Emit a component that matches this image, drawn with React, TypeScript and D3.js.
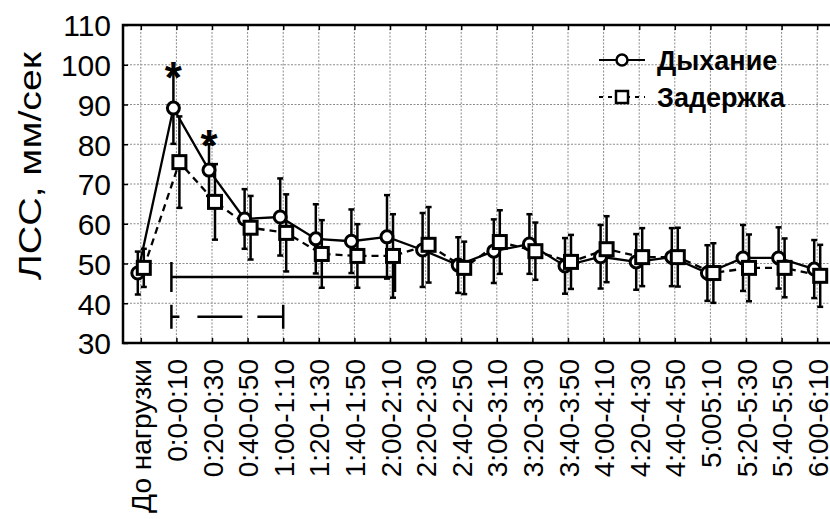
import React, { useEffect, useRef } from "react";
import * as d3 from "d3";

// x categories (time intervals)
const categories = [
  "До нагрузки",
  "0:0-0:10",
  "0:20-0:30",
  "0:40-0:50",
  "1:00-1:10",
  "1:20-1:30",
  "1:40-1:50",
  "2:00-2:10",
  "2:20-2:30",
  "2:40-2:50",
  "3:00-3:10",
  "3:20-3:30",
  "3:40-3:50",
  "4:00-4:10",
  "4:20-4:30",
  "4:40-4:50",
  "5:005:10",
  "5:20-5:30",
  "5:40-5:50",
  "6:00-6:10",
];

const yTicks = [30, 40, 50, 60, 70, 80, 90, 100, 110];

// Дыхание (mean, +/- error)
const breathing = [47.6, 89.1, 73.5, 61.2, 61.7, 56.2, 55.6, 56.7, 53.4, 49.6, 53.1, 54.9, 49.4, 51.7, 50.4, 51.6, 47.6, 51.4, 51.4, 48.6];
const breathingErr = [5.4, 9, 6.5, 7.5, 9.7, 8.7, 8, 10.5, 9.3, 7, 8, 7.5, 7, 8, 7, 7.3, 7, 8.3, 7.7, 7.3];

// Задержка (mean, +/- error)
const hold = [48.9, 75.5, 65.5, 59, 57.7, 52.4, 51.9, 51.9, 54.7, 48.9, 55.4, 53.1, 50.4, 53.6, 51.6, 51.6, 47.6, 48.9, 48.9, 46.9];
const holdErr = [4.8, 11.5, 9.5, 8, 9.7, 8.5, 8, 10.5, 9.5, 6.6, 8, 7.2, 6.8, 8.3, 7.3, 7.4, 7.5, 8.4, 7.4, 7.8];

// significance marks
const stars = [
  { cat: 1, value: 99.2 },
  { cat: 2, value: 82.2 },
];

// brackets under the curves
const brackets = [
  { from: 1, to: 7, value: 46.6, dashed: false },
  { from: 1, to: 4, value: 36.6, dashed: true },
];

const App = () => {
  const svgRef = useRef<SVGSVGElement>(null);

  useEffect(() => {
    document.body.style.margin = "0";
    const svg = d3.select(svgRef.current);
    svg.selectAll("*").remove();

    const width = 830;
    const height = 519;
    const margin = { top: 25, right: -5, bottom: 176, left: 123 };
    const font = "'Liberation Sans', Arial, sans-serif";

    const x = d3
      .scalePoint<string>()
      .domain(categories)
      .range([margin.left, width - margin.right])
      .padding(0.5);

    const y = d3
      .scaleLinear()
      .domain([30, 110])
      .range([height - margin.bottom, margin.top]);

    const xi = (i: number) => x(categories[i]) as number;

    // grid
    const grid = svg.append("g").attr("stroke", "#8c8c8c").attr("stroke-width", 1).attr("stroke-dasharray", "2 1.5");
    grid
      .selectAll(".vg")
      .data(categories)
      .enter()
      .append("line")
      .attr("x1", (d) => x(d) as number)
      .attr("x2", (d) => x(d) as number)
      .attr("y1", margin.top)
      .attr("y2", height - margin.bottom);
    grid
      .selectAll(".hg")
      .data(yTicks.slice(1, -1))
      .enter()
      .append("line")
      .attr("x1", margin.left)
      .attr("x2", width - margin.right)
      .attr("y1", (d) => y(d))
      .attr("y2", (d) => y(d));

    // axes
    const yAxis = svg
      .append("g")
      .attr("transform", `translate(${margin.left},0)`)
      .call(d3.axisLeft(y).tickValues(yTicks).tickSize(-5).tickPadding(12));
    yAxis.selectAll("text").style("font-family", font).style("font-size", "30px").attr("fill", "#000").attr("dy", "0.36em");

    const xAxis = svg
      .append("g")
      .attr("transform", `translate(0,${height - margin.bottom})`)
      .call(d3.axisBottom(x).tickSize(-5));
    xAxis
      .selectAll("text")
      .style("font-family", font)
      .style("font-size", "28px")
      .attr("fill", "#000")
      .attr("transform", "rotate(-90)")
      .attr("x", -16)
      .attr("y", 0)
      .attr("dy", "0.36em")
      .attr("text-anchor", "end");

    svg
      .append("g")
      .attr("transform", `translate(0,${margin.top})`)
      .call(d3.axisTop(x).tickSize(-5).tickFormat(() => ""));

    svg.selectAll(".domain").remove();
    svg.selectAll(".tick line").attr("stroke", "#000").attr("stroke-width", 1.5);

    // y label
    svg
      .append("text")
      .attr("transform", "translate(30,166) rotate(-90)")
      .attr("text-anchor", "middle")
      .attr("dy", "0.36em")
      .attr("textLength", 228)
      .attr("lengthAdjust", "spacingAndGlyphs")
      .style("font-family", font)
      .style("font-size", "31px")
      .text("ЛСС, мм/сек");

    const series = [
      { name: "Задержка", values: hold, errors: holdErr, shape: "square", dash: "7 5", dx: 3 },
      { name: "Дыхание", values: breathing, errors: breathingErr, shape: "circle", dash: "none", dx: -3 },
    ];

    // lines
    series.forEach((s) => {
      const line = d3
        .line<number>()
        .x((_, i) => xi(i) + s.dx)
        .y((d) => y(d));
      svg
        .append("path")
        .datum(s.values)
        .attr("fill", "none")
        .attr("stroke", "#000")
        .attr("stroke-width", 2.3)
        .attr("stroke-dasharray", s.dash)
        .attr("d", line);
    });

    // error bars
    series.forEach((s) => {
      const g = svg.append("g").attr("stroke", "#000").attr("stroke-width", 2.5);
      s.values.forEach((v, i) => {
        const cx = xi(i) + s.dx;
        const top = y(v + s.errors[i]);
        const bot = y(v - s.errors[i]);
        g.append("line").attr("x1", cx).attr("x2", cx).attr("y1", top).attr("y2", bot);
        g.append("line").attr("x1", cx - 3).attr("x2", cx + 3).attr("y1", top).attr("y2", top);
        g.append("line").attr("x1", cx - 3).attr("x2", cx + 3).attr("y1", bot).attr("y2", bot);
      });
    });

    // markers
    const drawMarker = (g: any, shape: string, cx: number, cy: number, size: number) => {
      if (shape === "circle") {
        g.append("circle").attr("cx", cx).attr("cy", cy).attr("r", size / 2);
      } else {
        g.append("rect")
          .attr("x", cx - size / 2)
          .attr("y", cy - size / 2)
          .attr("width", size)
          .attr("height", size);
      }
    };

    [series[1], series[0]].forEach((s) => {
      const g = svg.append("g").attr("fill", "#fff").attr("stroke", "#000").attr("stroke-width", 3);
      s.values.forEach((v, i) => drawMarker(g, s.shape, xi(i) + s.dx, y(v), s.shape === "circle" ? 12 : 13));
    });

    // brackets
    brackets.forEach((b) => {
      const x1 = xi(b.from) - 5;
      const x2 = xi(b.to) + (b.dashed ? 0 : 5);
      const yy = y(b.value);
      const h = b.dashed ? 12 : 15;
      const g = svg.append("g").attr("stroke", "#000").attr("stroke-width", 2.5);
      g.append("line")
        .attr("x1", x1)
        .attr("x2", x2)
        .attr("y1", yy)
        .attr("y2", yy)
        .attr("stroke-dasharray", b.dashed ? "8 18 45 15 30" : "none");
      g.append("line").attr("x1", x1).attr("x2", x1).attr("y1", yy - h).attr("y2", yy + h);
      g.append("line").attr("x1", x2).attr("x2", x2).attr("y1", yy - h).attr("y2", yy + h);
    });

    // frame
    svg
      .append("rect")
      .attr("x", margin.left)
      .attr("y", margin.top)
      .attr("width", width - margin.right - margin.left)
      .attr("height", height - margin.bottom - margin.top)
      .attr("fill", "none")
      .attr("stroke", "#000")
      .attr("stroke-width", 2.5);

    // stars
    svg
      .selectAll(".star")
      .data(stars)
      .enter()
      .append("text")
      .attr("x", (d) => xi(d.cat) - 3)
      .attr("y", (d) => y(d.value))
      .attr("dy", "0.57em")
      .attr("text-anchor", "middle")
      .style("font-family", font)
      .style("font-size", "44px")
      .style("font-weight", "bold")
      .text("*");

    // legend
    const legend = svg.append("g").attr("transform", "translate(599,60)");
    series
      .slice()
      .reverse()
      .forEach((s, i) => {
        const g = legend.append("g").attr("transform", `translate(0,${i * 37})`);
        g.append("line")
          .attr("x1", 0)
          .attr("x2", 46)
          .attr("stroke", "#000")
          .attr("stroke-width", 2)
          .attr("stroke-dasharray", s.shape === "circle" ? "none" : "4 5");
        const m = g.append("g").attr("fill", "#fff").attr("stroke", "#000").attr("stroke-width", 2.5);
        drawMarker(m, s.shape, 23, 0, s.shape === "circle" ? 11 : 12);
        g.append("text")
          .attr("x", 58)
          .attr("dy", "0.36em")
          .style("font-family", font)
          .style("font-size", "27px")
          .style("font-weight", "bold")
          .text(s.name);
      });
  }, []);

  return <svg ref={svgRef} width={830} height={519} style={{ display: "block", background: "#fff" }} />;
};

export default App;
